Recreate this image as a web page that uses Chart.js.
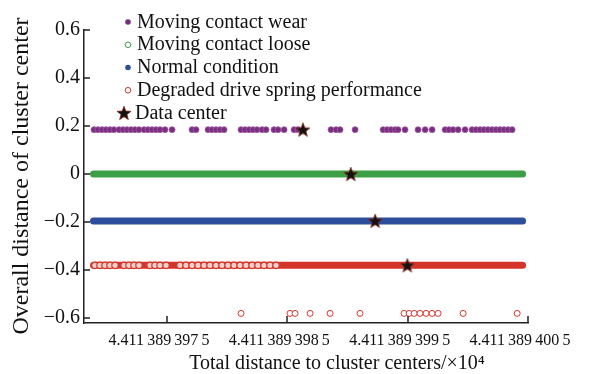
<!DOCTYPE html>
<html>
<head>
<meta charset="utf-8">
<script src="https://cdn.jsdelivr.net/npm/chart.js@4.4.0/dist/chart.umd.min.js"></script>
<style>
html, body { margin: 0; padding: 0; background: #fff; }
#wrap { width: 592px; height: 374px; }
</style>
</head>
<body>
<div id="wrap"><canvas id="chart"></canvas></div>
<script>
// x is an offset from 4.411 389 397 5 (x10^4), one unit per tick step
const xTickValues = [0, 1, 2, 3];
const xTickLabels = ['4.411\u2009389\u2009397\u20095', '4.411\u2009389\u2009398\u20095', '4.411\u2009389\u2009399\u20095', '4.411\u2009389\u2009400\u20095'];
const yTickValues = [-0.6, -0.4, -0.2, 0, 0.2, 0.4, 0.6];
const yTickLabels = ['\u22120.6', '\u22120.4', '\u22120.2', '0', '0.2', '0.4', '0.6'];

const seriesNames = ['Moving contact wear', 'Moving contact loose', 'Normal condition', 'Degraded drive spring performance', 'Data center'];

// moving contact wear: scattered points
const wearX = [-0.607, -0.574, -0.540, -0.507, -0.474, -0.441, -0.399, -0.366, -0.333, -0.299, -0.266, -0.233,
  -0.191, -0.158, -0.125, -0.091, -0.058, -0.017, 0.042, 0.208, 0.241, 0.341, 0.374, 0.407, 0.441, 0.474,
  0.615, 0.648, 0.682, 0.715, 0.748, 0.790, 0.823, 0.889, 0.923, 0.973, 1.056, 1.089, 1.363, 1.405, 1.438,
  1.563, 1.796, 1.829, 1.862, 1.895, 1.920, 1.978, 2.086, 2.145, 2.203, 2.311, 2.344, 2.377, 2.419, 2.477,
  2.535, 2.569, 2.602, 2.635, 2.668, 2.702, 2.735, 2.768, 2.801, 2.835, 2.868];
const wearY = 0.185;

// dense rows: first and last sample
const looseX = [-0.611, 2.955];
const looseY = 0;
const normalX = [-0.611, 2.955];
const normalY = -0.195;
const springX = [-0.611, 2.955];
const springY = -0.38;
// circles that stay visible on the left of the spring row
const springRowX = [-0.599, -0.557, -0.515, -0.474, -0.432, -0.357, -0.316, -0.274, -0.233, -0.141, -0.100,
  -0.058, -0.008, 0.108, 0.158, 0.208, 0.258, 0.308, 0.357, 0.407, 0.457, 0.507, 0.557, 0.607, 0.657, 0.707,
  0.756, 0.806, 0.856, 0.906];
// spring samples below the row
const springLowX = [0.615, 1.022, 1.064, 1.189, 1.355, 1.604, 1.970, 2.012, 2.054, 2.103, 2.153, 2.203, 2.253, 2.461, 2.910];
const springLowY = -0.58;

const centerX = [1.13, 1.527, 1.73, 1.997];
const centerY = [0.185, 0, -0.195, -0.38];

const colors = { wear: '#7a2e80', wearEdge: '#a25aa6', loose: '#3c9f45', normal: '#2d4e9c', spring: '#d4352b', springFill: '#f3cfc9' };
const serif = 'Liberation Serif, Times New Roman, serif';

function row(xs, y) { return xs.map(x => ({ x: x, y: y })); }
function pairs(xs, ys) { return xs.map((x, i) => ({ x: x, y: ys[i] })); }

function makeStar(size) {
    const c = document.createElement('canvas');
    c.width = c.height = size;
    const g = c.getContext('2d');
    const cx = size / 2, cy = size / 2 + 0.6, R = size / 2 - 0.6, r = R * 0.42;
    g.beginPath();
    for (let i = 0; i < 10; i++) {
        const a = -Math.PI / 2 + i * Math.PI / 5;
        const rad = i % 2 ? r : R;
        g.lineTo(cx + rad * Math.cos(a), cy + rad * Math.sin(a));
    }
    g.closePath();
    g.fillStyle = '#111';
    g.fill();
    g.strokeStyle = '#8a2a1e';
    g.lineWidth = 0.8;
    g.stroke();
    return c;
}
const star = makeStar(16);

// inward tick marks
const innerTicks = {
    id: 'innerTicks',
    afterDraw(chart) {
        const ctx = chart.ctx, xs = chart.scales.x, ys = chart.scales.y, a = chart.chartArea;
        ctx.save();
        ctx.strokeStyle = '#222';
        ctx.lineWidth = 1.5;
        ctx.beginPath();
        xTickValues.forEach(v => {
            const px = Math.round(xs.getPixelForValue(v));
            ctx.moveTo(px, a.bottom);
            ctx.lineTo(px, a.bottom - 7);
        });
        yTickValues.forEach(v => {
            const py = Math.round(ys.getPixelForValue(v));
            ctx.moveTo(a.left, py);
            ctx.lineTo(a.left + 6, py);
        });
        ctx.stroke();
        ctx.restore();
    }
};

// legend and axis titles
const legendAndTitles = {
    id: 'legendAndTitles',
    afterDraw(chart) {
        const ctx = chart.ctx;
        ctx.save();
        ctx.fillStyle = '#111';
        ctx.font = '20px ' + serif;
        ctx.textBaseline = 'alphabetic';
        const x0 = 128, y0 = 22, step = 22.75;
        seriesNames.forEach((name, i) => {
            const cy = y0 + i * step;
            ctx.lineWidth = 1;
            if (i === 0 || i === 2) {
                ctx.beginPath();
                ctx.arc(x0, cy, 2.8, 0, Math.PI * 2);
                ctx.fillStyle = i === 0 ? colors.wear : colors.normal;
                ctx.fill();
            } else if (i === 1 || i === 3) {
                ctx.beginPath();
                ctx.arc(x0, cy, 2.8, 0, Math.PI * 2);
                ctx.fillStyle = '#fff';
                ctx.fill();
                ctx.strokeStyle = i === 1 ? colors.loose : colors.spring;
                ctx.stroke();
            } else {
                ctx.drawImage(star, x0 - 4 - star.width / 2, cy - star.height / 2);
            }
            ctx.fillStyle = '#111';
            ctx.fillText(name, i === 4 ? x0 + 7 : x0 + 9, cy + 5.5);
        });

        ctx.textAlign = 'center';
        ctx.textBaseline = 'middle';
        ctx.font = '20px ' + serif;
        ctx.fillText('Total distance to cluster centers/\u00d710\u2074', 337, 364);

        ctx.translate(22, 176);
        ctx.rotate(-Math.PI / 2);
        ctx.font = '24px ' + serif;
        ctx.fillText('Overall distance of cluster center', 0, 0);
        ctx.restore();
    }
};

new Chart(document.getElementById('chart'), {
    type: 'scatter',
    data: {
        datasets: [
            { label: seriesNames[4], data: pairs(centerX, centerY), pointStyle: star, pointRadius: 8 },
            { label: seriesNames[0], data: row(wearX, wearY), pointRadius: 3, pointBackgroundColor: colors.wear,
              pointBorderColor: colors.wearEdge, pointBorderWidth: 0.8 },
            { label: seriesNames[1], data: row(looseX, looseY), showLine: true, borderColor: colors.loose,
              borderWidth: 7, borderCapStyle: 'round', pointRadius: 0 },
            { label: seriesNames[2], data: row(normalX, normalY), showLine: true, borderColor: colors.normal,
              borderWidth: 7, borderCapStyle: 'round', pointRadius: 0 },
            { label: seriesNames[3], data: row(springRowX, springY), pointRadius: 3.2, pointBackgroundColor: colors.springFill,
              pointBorderColor: colors.spring, pointBorderWidth: 1.2 },
            { label: seriesNames[3], data: row(springX, springY), showLine: true, borderColor: colors.spring,
              borderWidth: 7, borderCapStyle: 'round', pointRadius: 0 },
            { label: seriesNames[3], data: row(springLowX, springLowY), pointRadius: 3, pointBackgroundColor: '#fff',
              pointBorderColor: colors.spring, pointBorderWidth: 1 }
        ]
    },
    options: {
        responsive: true,
        maintainAspectRatio: false,
        animation: false,
        layout: { padding: { top: 30, right: 64, left: 0, bottom: 0 } },
        plugins: { legend: { display: false }, tooltip: { enabled: false } },
        scales: {
            x: {
                type: 'linear',
                min: -0.69,
                max: 3,
                afterBuildTicks: s => { s.ticks = xTickValues.map(v => ({ value: v })); },
                afterFit: s => { s.height = 51; },
                grid: { display: false, drawTicks: false },
                border: { display: true, color: '#222', width: 1.5 },
                ticks: {
                    autoSkip: false,
                    maxRotation: 0,
                    padding: 8,
                    labelOffset: -8,
                    color: '#111',
                    font: { family: serif, size: 16 },
                    callback: v => { const i = xTickValues.indexOf(v); return i >= 0 ? xTickLabels[i] : ''; }
                }
            },
            y: {
                min: -0.62,
                max: 0.6,
                afterBuildTicks: s => { s.ticks = yTickValues.map(v => ({ value: v })); },
                afterFit: s => { s.width = 84; },
                grid: { display: false, drawTicks: false },
                border: { display: true, color: '#222', width: 1.5 },
                ticks: {
                    padding: 4,
                    color: '#111',
                    font: { family: serif, size: 20 },
                    callback: v => { const i = yTickValues.indexOf(v); return i >= 0 ? yTickLabels[i] : ''; }
                }
            }
        }
    },
    plugins: [innerTicks, legendAndTitles]
});
</script>
</body>
</html>
